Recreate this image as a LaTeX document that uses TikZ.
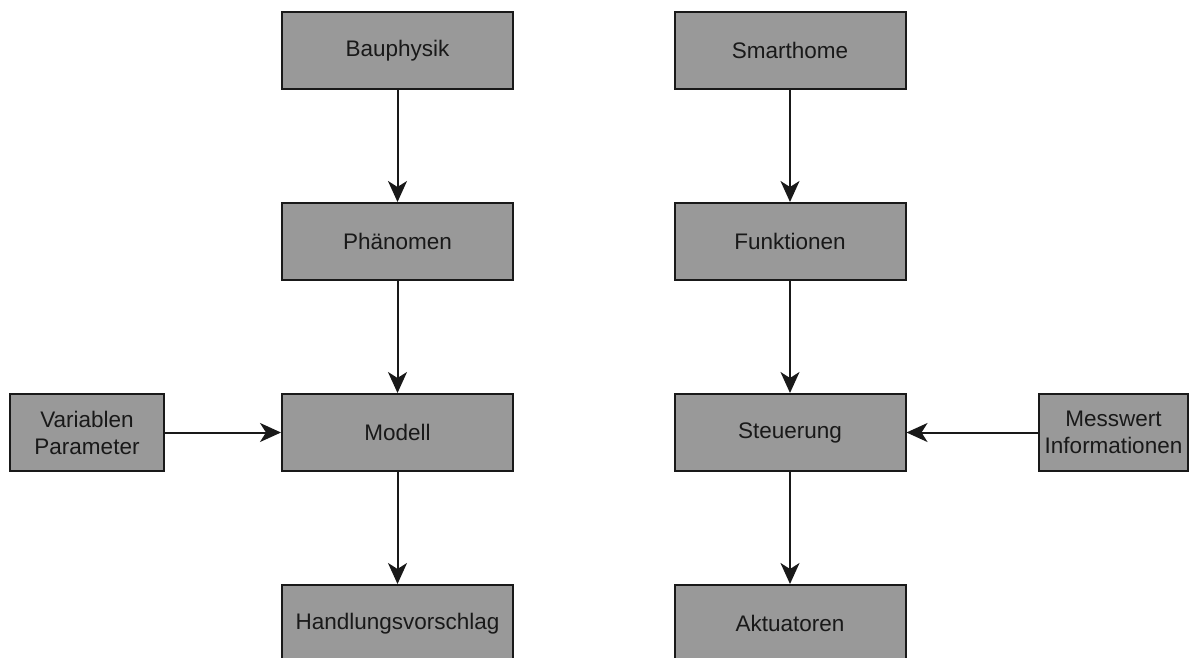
\documentclass[tikz,border=0pt]{standalone}
\usepackage{fontspec}
\setmainfont{Liberation Sans}
\usetikzlibrary{arrows.meta}
\begin{document}
\begin{tikzpicture}[x=1pt,y=-1pt,
  box/.style={draw=black!90, line width=2pt, fill=black!40, inner sep=0pt,
    minimum height=77pt, align=center,
    font=\fontsize{22.5}{27}\selectfont, text=black!90},
  wide/.style={box, minimum width=231pt},
  side/.style={box, minimum width=152pt},
  flow/.style={draw=black!90, line width=2pt,
    -{Stealth[length=21pt, width=19pt, inset=6pt]}}]
\clip (0,0) rectangle (1191,658);
\useasboundingbox (0,0) rectangle (1191,658);
% left column
\node[wide] (bau) at (397.5,50.5) {Bauphysik};
\node[wide] (phae) at (397.5,241.5) {Phänomen};
\node[wide] (mod) at (397.5,432.5) {Modell};
\node[wide] (hand) at (397.5,623.5) {Handlungsvorschlag};
\node[side, minimum width=154pt] (var) at (87,432.5) {Variablen\\Parameter};
% right column
\node[wide] (smart) at (790,50.5) {Smarthome};
\node[wide] (funk) at (790,241.5) {Funktionen};
\node[wide] (steu) at (790,432.5) {Steuerung};
\node[wide] (akt) at (790,623.5) {Aktuatoren};
\node[side, minimum width=149pt] (mess) at (1113.5,432.5) {Messwert\\Informationen};
% connectors
\draw[flow] (bau) -- (phae);
\draw[flow] (phae) -- (mod);
\draw[flow] (mod) -- (hand);
\draw[flow] (var) -- (mod);
\draw[flow] (smart) -- (funk);
\draw[flow] (funk) -- (steu);
\draw[flow] (steu) -- (akt);
\draw[flow] (mess) -- (steu);
\end{tikzpicture}
\end{document}
